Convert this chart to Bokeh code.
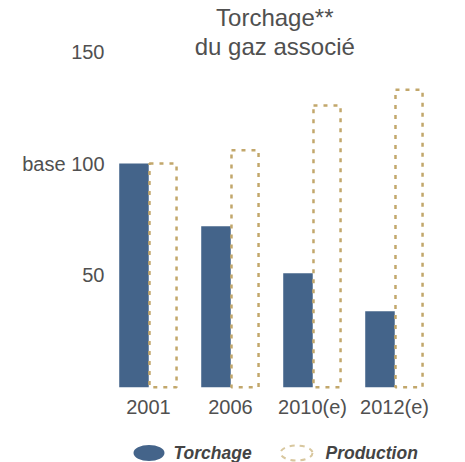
from bokeh.plotting import figure
from bokeh.models import Range1d, FactorRange, FixedTicker, Label, ColumnDataSource
from bokeh.layouts import column
from bokeh.transform import dodge
from bokeh.embed import file_html
from bokeh.resources import INLINE

# ---- data ----
years = ["2001", "2006", "2010(e)", "2012(e)"]
torchage = [100, 72, 51, 34]
production = [100, 106, 126, 133]
y_ticks = [50, 100, 150]
y_tick_labels = {100: "base 100"}
title_lines = ["Torchage**", "du gaz associé"]
legend_labels = ["Torchage", "Production"]

BLUE = "#44648A"
GOLD = "#C2A76B"
TEXT = "#505050"
FONT = "Liberation Sans"

src = ColumnDataSource(dict(years=years, torchage=torchage, production=production))

p = figure(x_range=FactorRange(*years), y_range=Range1d(-1, 172.9),
           width=465, height=438, output_backend="svg", toolbar_location=None,
           min_border_left=107, min_border_right=30, min_border_top=0,
           min_border_bottom=49)
p.outline_line_color = None
p.xgrid.visible = False
p.ygrid.visible = False

p.vbar(x=dodge("years", -0.177, range=p.x_range), top="torchage", bottom=0,
       width=0.36, source=src, fill_color=BLUE, line_color=None)
p.vbar(x=dodge("years", 0.177, range=p.x_range), top="production", bottom=0,
       width=0.33, source=src, fill_color=None, line_color=GOLD,
       line_width=2.5, line_dash="4 6")

for ax in (p.xaxis[0], p.yaxis[0]):
    ax.axis_line_color = None
    ax.major_tick_line_color = None
    ax.minor_tick_line_color = None
    ax.major_tick_out = 0
    ax.major_tick_in = 0
    ax.major_label_text_font = FONT
    ax.major_label_text_font_size = "20px"
    ax.major_label_text_color = TEXT

p.yaxis[0].ticker = FixedTicker(ticks=y_ticks)
p.yaxis[0].major_label_overrides = y_tick_labels
p.yaxis[0].major_label_standoff = 3
p.xaxis[0].major_label_standoff = 6

for txt, yy in zip(title_lines, [165.3, 152.3]):
    p.add_layout(Label(x=2.04, y=yy, text=txt, text_align="center",
                       text_baseline="middle", text_font=FONT,
                       text_font_size="24px", text_color=TEXT))

# ---- legend strip (frame aligned with the main plot) ----
lg = figure(width=465, height=24, x_range=Range1d(107, 435), y_range=Range1d(0, 24),
            output_backend="svg", toolbar_location=None, min_border=0,
            min_border_left=107, min_border_right=30)
lg.axis.visible = False
lg.grid.visible = False
lg.outline_line_color = None
lg.ellipse(x=[148.5], y=[9.5], width=31, height=16, fill_color=BLUE, line_color=None)
lg.ellipse(x=[296], y=[9.5], width=32, height=15, fill_color=None,
           line_color="#D8C79E", line_width=2, line_dash="5 5")
lg.text(x=[173, 325], y=[9.5, 9.5], text=legend_labels, text_baseline="middle",
        text_font={"value": FONT}, text_font_size={"value": "17.5px"},
        text_font_style={"value": "bold italic"}, text_color="#444444")

layout = column(p, lg, spacing=0)
open("out.html", "w").write(file_html(layout, INLINE))
